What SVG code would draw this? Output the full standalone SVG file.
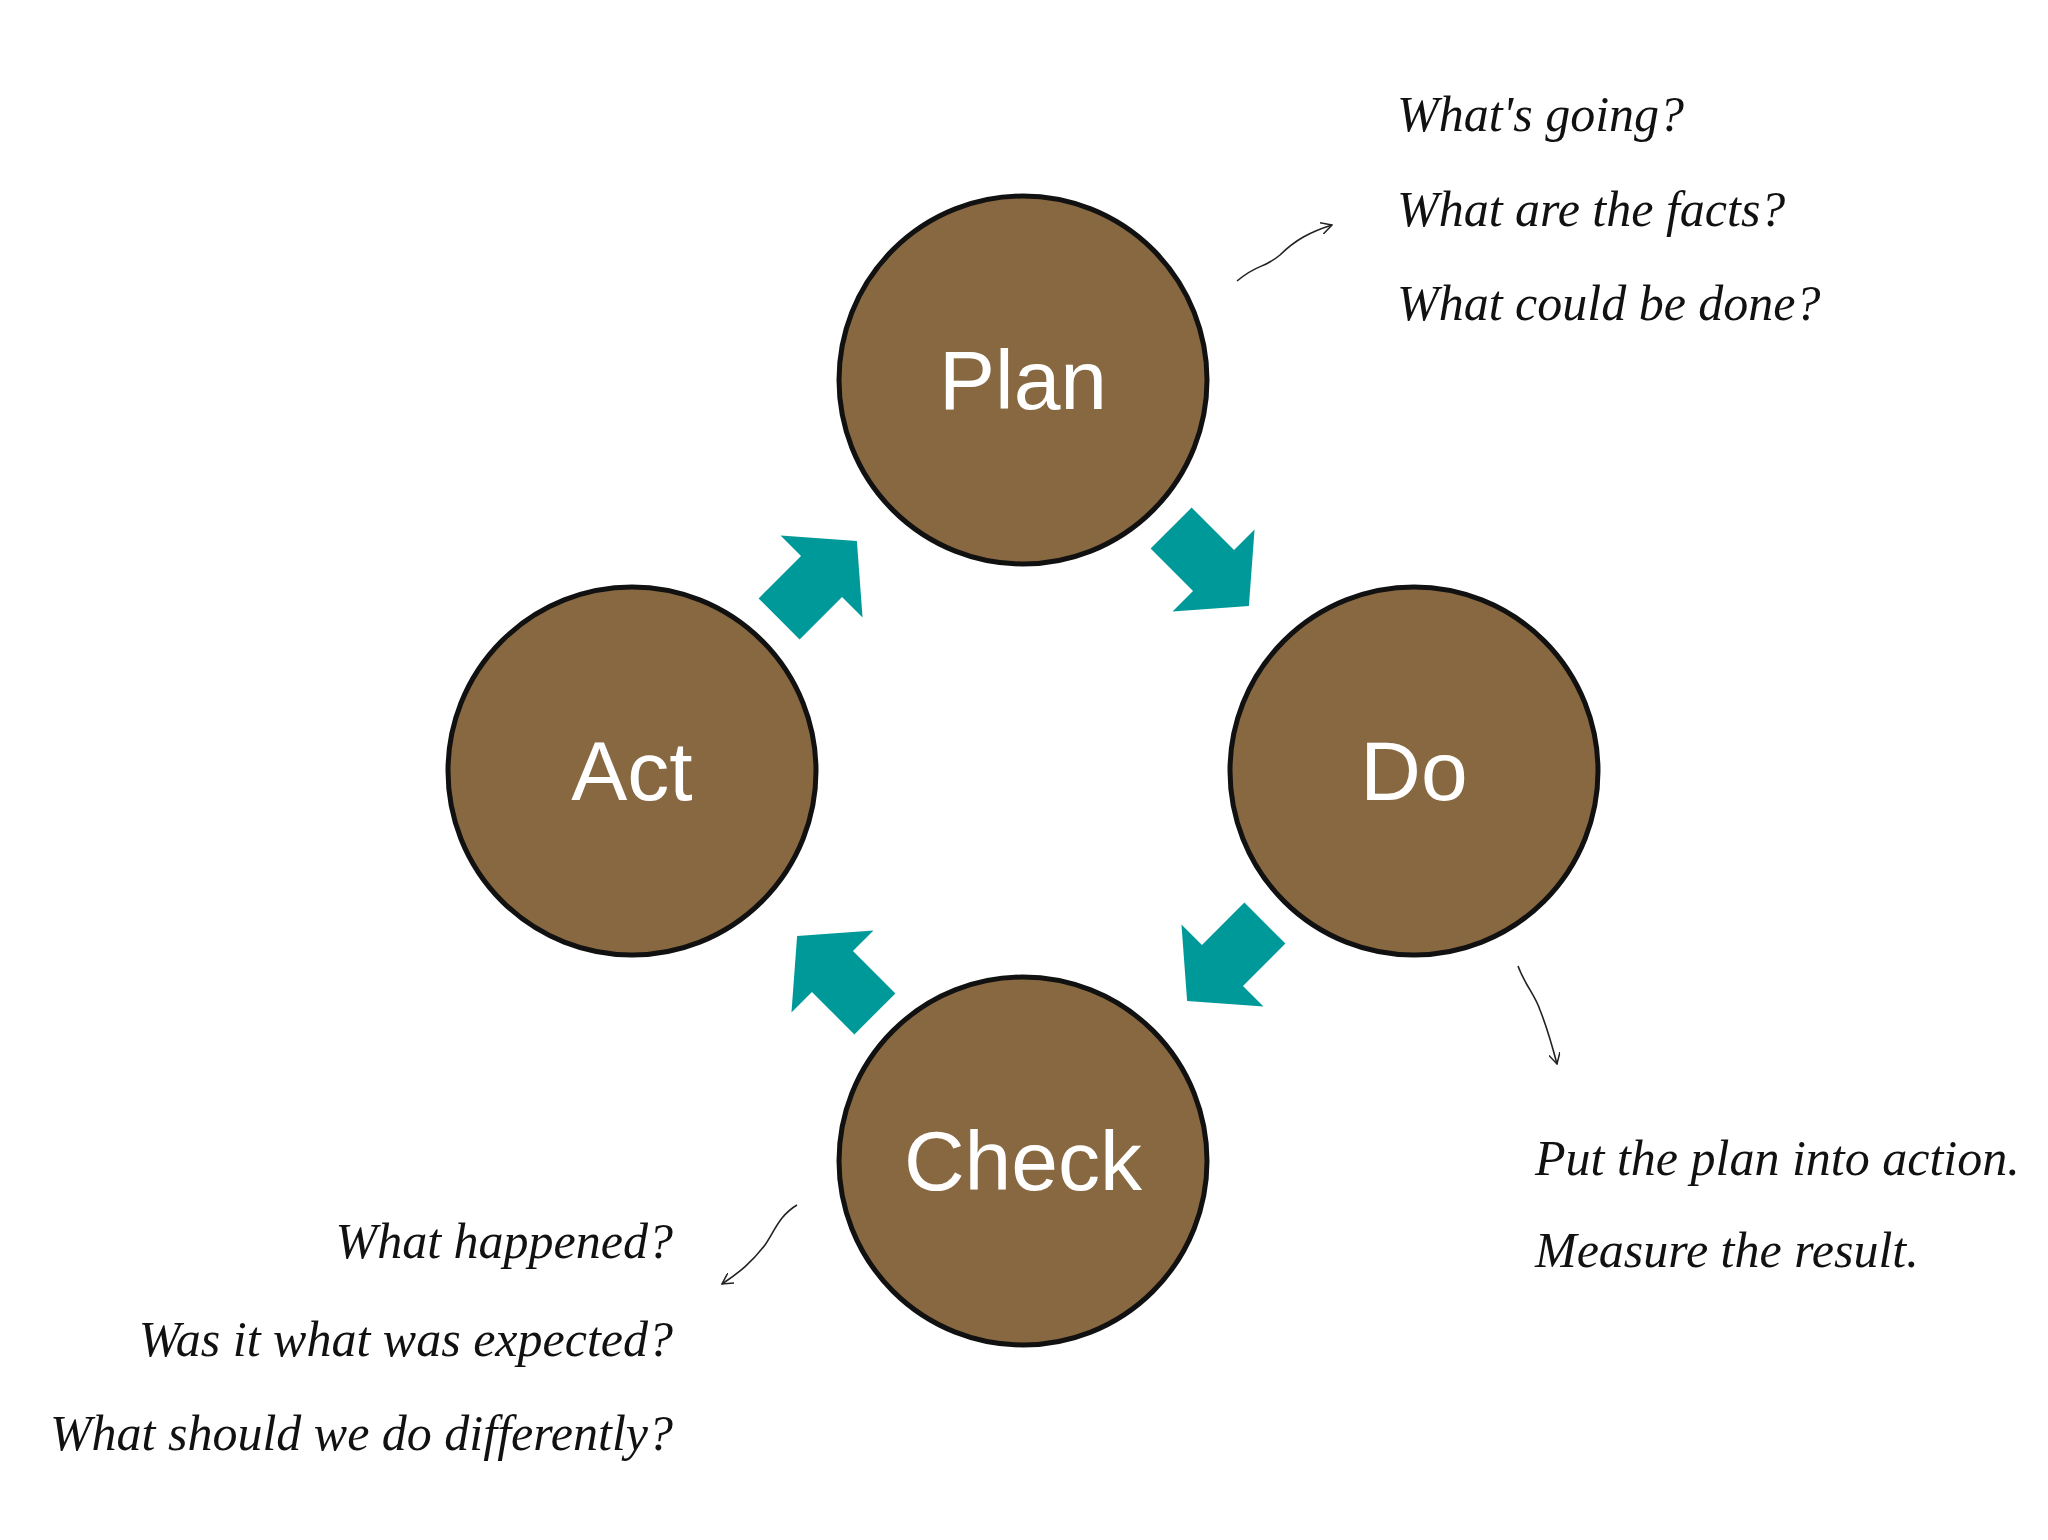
<svg xmlns="http://www.w3.org/2000/svg" width="2048" height="1540" viewBox="0 0 2048 1540">
<defs>
<style>
.node{fill:#886841;stroke:#111;stroke-width:5}
.lbl{font-family:"Liberation Sans Narrow","Liberation Sans",Arial,sans-serif;font-size:84px;fill:#fff;text-anchor:middle}
.note{font-family:"Liberation Serif",serif;font-style:italic;font-size:50px;fill:#111}
.big{fill:#009999}
.thin{fill:none;stroke:#222;stroke-width:1.6}
</style>
<path id="ba" d="M-55,-29 L5,-29 L5,-58 L55,0 L5,58 L5,29 L-55,29 Z"/>
<marker id="ah" viewBox="0 0 12 12" refX="11" refY="6" markerWidth="12" markerHeight="12" markerUnits="userSpaceOnUse" orient="auto"><path d="M0,0 L11,6 L0,12" fill="none" stroke="#222" stroke-width="1.5"/></marker>
</defs>
<rect width="2048" height="1540" fill="#fff"/>
<g id="plan"><circle class="node" cx="1023" cy="380" r="184"/><text class="lbl" x="1023" y="409">Plan</text></g>
<g id="do"><circle class="node" cx="1414" cy="771" r="184"/><text class="lbl" x="1414" y="800">Do</text></g>
<g id="check"><circle class="node" cx="1023" cy="1161" r="184"/><text class="lbl" x="1023" y="1190">Check</text></g>
<g id="act"><circle class="node" cx="632" cy="771" r="184"/><text class="lbl" x="632" y="800">Act</text></g>
<g id="connectors">
<use href="#ba" class="big" transform="translate(1210,567) rotate(45)"/>
<use href="#ba" class="big" transform="translate(1226,962) rotate(135)"/>
<use href="#ba" class="big" transform="translate(836,975) rotate(225)"/>
<use href="#ba" class="big" transform="translate(818,580) rotate(315)"/>
<path class="thin" marker-end="url(#ah)" d="M1237,281 C1260,262 1262,270 1280,255 C1295,240 1310,232 1332,225"/>
<path class="thin" marker-end="url(#ah)" d="M1518,966 C1525,985 1535,995 1540,1010 C1548,1030 1552,1045 1557,1064"/>
<path class="thin" marker-end="url(#ah)" d="M797,1205 C780,1215 775,1230 765,1245 C752,1262 740,1272 722,1284"/>
</g>
<g id="notes">
<text class="note" x="1397" y="131">What's going?</text>
<text class="note" x="1397" y="226">What are the facts?</text>
<text class="note" x="1397" y="320">What could be done?</text>
<text class="note" x="1535" y="1175">Put the plan into action.</text>
<text class="note" x="1535" y="1267">Measure the result.</text>
<text class="note" x="673" y="1258" text-anchor="end">What happened?</text>
<text class="note" x="673" y="1356" text-anchor="end">Was it what was expected?</text>
<text class="note" x="673" y="1450" text-anchor="end">What should we do differently?</text>
</g>
</svg>
